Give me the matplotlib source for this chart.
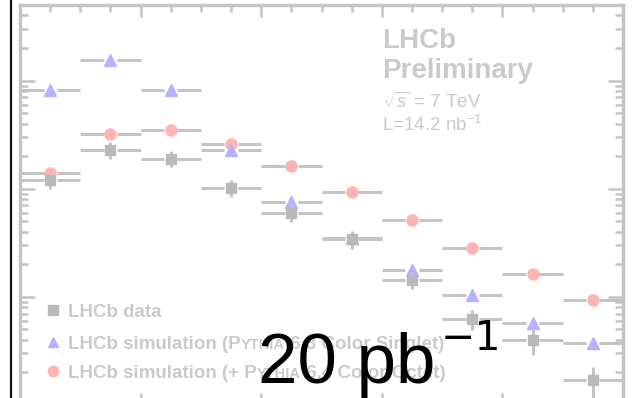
import numpy as np
import matplotlib
matplotlib.use('Agg')
import matplotlib.pyplot as plt
from matplotlib.lines import Line2D
from matplotlib.ticker import LogLocator, MultipleLocator, NullFormatter

# 10 bins, in bin-index units
bin_lo = np.arange(0, 10)
bin_hi = bin_lo + 1
x_c = bin_lo + 0.5

data = [12.1, 23.0, 19.0, 10.2, 6.0, 3.44, 1.44, 0.625, 0.40, 0.17]
data_err = [2.2, 4.0, 3.2, 1.8, 1.1, 0.65, 0.27, 0.13, 0.11, 0.055]
singlet = [82.6, 156, 82.6, 23.0, 7.58, 3.52, 1.78, 1.04, 0.574, 0.375]
octet = [14.1, 32.3, 35.2, 26.1, 16.3, 9.38, 5.16, 2.84, 1.63, 0.94]

leg_data = [("LHCb data", False)]
leg_singlet = [("LHCb simulation (P", False), ("YTHIA", True), (" 6.3 Color Singlet)", False)]
leg_octet = [("LHCb simulation (+ P", False), ("YTHIA", True), (" 6.4 Color Octet)", False)]

grey = '#c4c4c4'
txt_grey = '#cacaca'
sq_col = '#b9b9b9'
tri_col = '#b3b3ff'
circ_col = '#ffb3b3'
W, H = 632, 398

plt.rcParams['mathtext.rm'] = 'Liberation Sans'
plt.rcParams['mathtext.it'] = 'Liberation Sans:italic'
plt.rcParams['mathtext.bf'] = 'Liberation Sans:bold'

fig = plt.figure(figsize=(W / 100, H / 100), dpi=100)
# axes frame runs past the bottom of the picture (cropped plot)
ax = fig.add_axes([20 / W, -7 / H, 603 / W, 400 / H])
ax.set_yscale('log')
ax.set_xlim(0, 10)
ax.set_ylim(0.1, 500)

gap = 0.11


def hbars(y, z):
    # ROOT-style bars: the line stops short of the marker
    ax.hlines(y, bin_lo, x_c - gap, color=grey, lw=2.2, zorder=z)
    ax.hlines(y, x_c + gap, bin_hi, color=grey, lw=2.2, zorder=z)


hbars(octet, 2)
ax.plot(x_c, octet, 'o', ms=8, color=circ_col, mec=circ_col, zorder=3)
hbars(singlet, 4)
ax.plot(x_c, singlet, '^', ms=8.5, color=tri_col, mec=tri_col, zorder=5)
hbars(data, 6)
ax.errorbar(x_c, data, yerr=data_err, fmt='none', ecolor=grey, elinewidth=2.2, capsize=0, zorder=6)
ax.plot(x_c, data, 's', ms=7.8, color=sq_col, mec=sq_col, zorder=7)

for s in ax.spines.values():
    s.set_color(grey)
    s.set_linewidth(2.5)

ax.xaxis.set_major_locator(MultipleLocator(2))
ax.xaxis.set_minor_locator(MultipleLocator(0.5))
ax.yaxis.set_major_locator(LogLocator(base=10))
ax.yaxis.set_minor_locator(LogLocator(base=10, subs=np.arange(2, 10)))
ax.yaxis.set_minor_formatter(NullFormatter())
ax.tick_params(which='both', direction='in', top=True, right=True, bottom=True, left=True,
               labelleft=False, labelbottom=False, color=grey, width=1.8)
ax.tick_params(axis='y', which='major', length=11)
ax.tick_params(axis='y', which='minor', length=5.8)
ax.tick_params(axis='x', which='major', length=8.6)
ax.tick_params(axis='x', which='minor', length=5)


def fx(px):
    return (px - 20) / 603


def fy(py):
    return (405 - py) / 400


# legend
def leg_line(pieces, y_base, size=13.5):
    prev = None
    for txt, small in pieces:
        fs = size * 0.78 if small else size
        if prev is None:
            prev = ax.text(fx(68), y_base, txt, transform=ax.transAxes, fontsize=fs,
                           family='Liberation Sans', weight='bold', color=txt_grey, va='baseline')
        else:
            prev = ax.annotate(txt, xy=(1, y_base), xycoords=(prev, 'axes fraction'),
                               fontsize=fs, family='Liberation Sans', weight='bold',
                               color=txt_grey, va='baseline', ha='left')


rows = [(leg_data, 's', sq_col, 310), (leg_singlet, '^', tri_col, 342), (leg_octet, 'o', circ_col, 371)]
for pieces, mk, col, py in rows:
    ax.plot([fx(53)], [fy(py)], mk, ms=7.5, color=col, mec=col, transform=ax.transAxes, clip_on=False)
    leg_line(pieces, fy(py + 6.8))

# experiment label
ax.text(fx(382), fy(48), 'LHCb', transform=ax.transAxes, fontsize=20, weight='bold',
        family='Liberation Sans', color=txt_grey, va='baseline')
ax.text(fx(382), fy(78), 'Preliminary', transform=ax.transAxes, fontsize=20, weight='bold',
        family='Liberation Sans', color=txt_grey, va='baseline')
ax.text(fx(382), fy(108), r'$\sqrt{s}$ = 7 TeV', transform=ax.transAxes, fontsize=13.5,
        family='Liberation Sans', math_fontfamily='custom', color=txt_grey, va='baseline')
ax.text(fx(382), fy(131), r'L=14.2 nb$^{-1}$', transform=ax.transAxes, fontsize=13.5,
        family='Liberation Sans', math_fontfamily='custom', color=txt_grey, va='baseline')

# overlay
fig.add_artist(Line2D([11 / W, 11 / W], [0, 1], transform=fig.transFigure, color='#111111', lw=1.6))
fig.text(258 / W, (H - 383) / H, '20 pb', fontsize=51, family='Liberation Sans',
         color='black', va='baseline')
fig.text(441 / W, (H - 350) / H, '\u22121', fontsize=29.5, family='DejaVu Sans',
         color='black', va='baseline')

fig.savefig('out.png', dpi=100)
